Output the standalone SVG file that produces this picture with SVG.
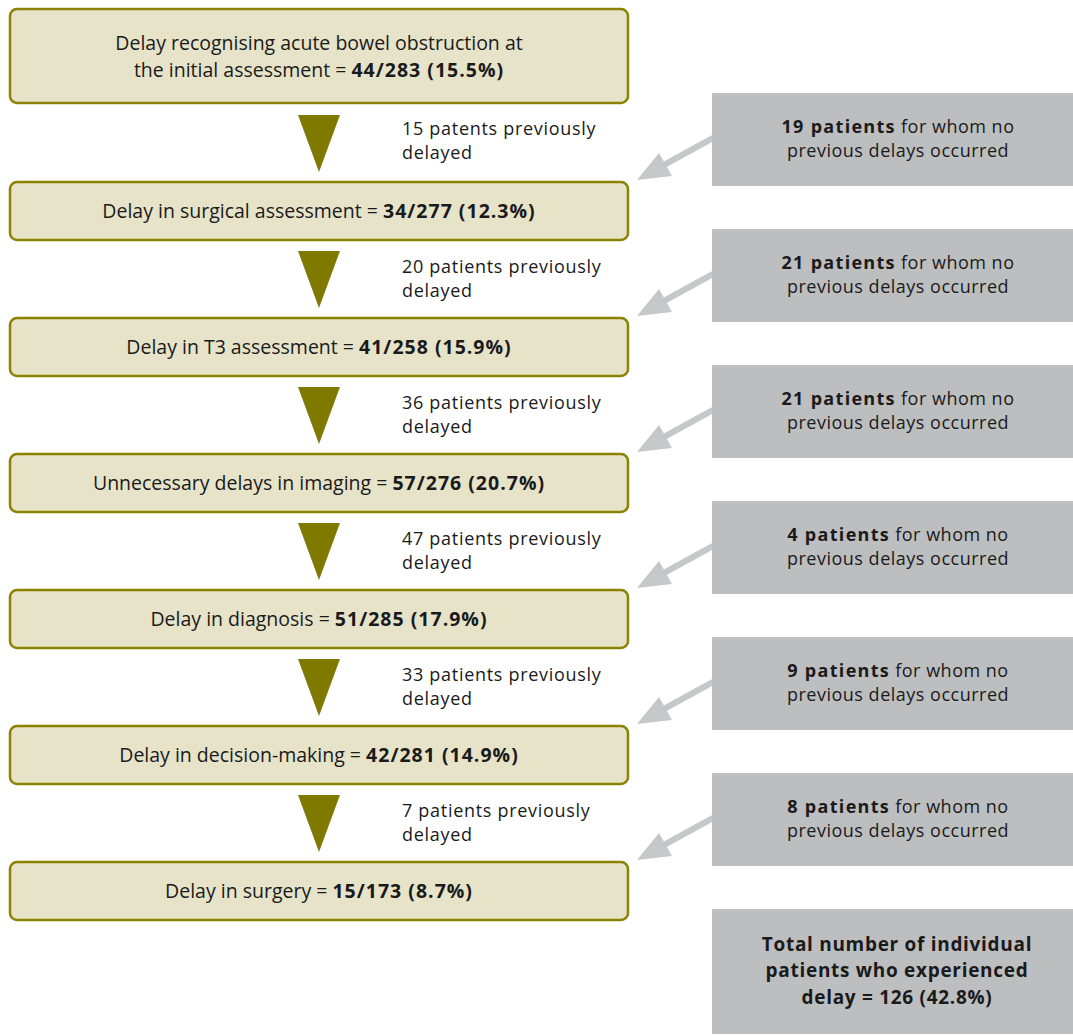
<svg xmlns="http://www.w3.org/2000/svg" width="1073" height="1035" viewBox="0 0 1073 1035">
<style>
text{font-family:"Open Sans","Noto Sans","DejaVu Sans",sans-serif;font-size:19.5px;fill:#1a1a1a}
.b{font-weight:bold;letter-spacing:1px}
.l{font-size:18px;letter-spacing:0.7px}
.s{font-size:18px;letter-spacing:0.5px}
.s .b{letter-spacing:1.3px}
.t{font-size:19px;font-weight:bold;letter-spacing:0.7px}
.main{fill:#e6e3c9;stroke:#8a8200;stroke-width:2.5}
.grey{fill:#bdbec0}
.tri{fill:#807900}
.ga{fill:#c6c7c9}
.gl{stroke:#c6c7c9;stroke-width:6;fill:none}
.m{text-anchor:middle}
</style>
<defs>
<g id="garrow">
<line class="gl" x1="713" y1="138" x2="662" y2="166"/>
<polygon class="ga" points="637,180 659,153 672,176"/>
</g>
<polygon id="tri" class="tri" points="298,115 340,115 319,172"/>
</defs>
<rect width="1073" height="1035" fill="#ffffff"/>
<g id="connectors">
<use href="#tri"/>
<use href="#tri" transform="translate(0,136)"/>
<use href="#tri" transform="translate(0,272)"/>
<use href="#tri" transform="translate(0,408)"/>
<use href="#tri" transform="translate(0,544)"/>
<use href="#tri" transform="translate(0,680)"/>
<use href="#garrow"/>
<use href="#garrow" transform="translate(0,136)"/>
<use href="#garrow" transform="translate(0,272)"/>
<use href="#garrow" transform="translate(0,408)"/>
<use href="#garrow" transform="translate(0,544)"/>
<use href="#garrow" transform="translate(0,680)"/>
</g>
<g id="lbl1"><text class="l" x="402" y="135">15 patents previously</text><text class="l" x="402" y="159">delayed</text></g>
<g id="lbl2"><text class="l" x="402" y="273">20 patients previously</text><text class="l" x="402" y="297">delayed</text></g>
<g id="lbl3"><text class="l" x="402" y="409">36 patients previously</text><text class="l" x="402" y="433">delayed</text></g>
<g id="lbl4"><text class="l" x="402" y="545">47 patients previously</text><text class="l" x="402" y="569">delayed</text></g>
<g id="lbl5"><text class="l" x="402" y="681">33 patients previously</text><text class="l" x="402" y="705">delayed</text></g>
<g id="lbl6"><text class="l" x="402" y="817">7 patients previously</text><text class="l" x="402" y="841">delayed</text></g>

<g id="n1"><rect class="main" x="10" y="9" width="618" height="94" rx="7"/>
<text class="m" x="319" y="50">Delay recognising acute bowel obstruction at</text>
<text class="m" x="319" y="77">the initial assessment = <tspan class="b">44/283 (15.5%)</tspan></text></g>
<g id="n2"><rect class="main" x="10" y="182" width="618" height="58" rx="7"/>
<text class="m" x="319" y="218">Delay in surgical assessment = <tspan class="b">34/277 (12.3%)</tspan></text></g>
<g id="n3"><rect class="main" x="10" y="318" width="618" height="58" rx="7"/>
<text class="m" x="319" y="354">Delay in T3 assessment = <tspan class="b">41/258 (15.9%)</tspan></text></g>
<g id="n4"><rect class="main" x="10" y="454" width="618" height="58" rx="7"/>
<text class="m" x="319" y="490">Unnecessary delays in imaging = <tspan class="b">57/276 (20.7%)</tspan></text></g>
<g id="n5"><rect class="main" x="10" y="590" width="618" height="58" rx="7"/>
<text class="m" x="319" y="626">Delay in diagnosis = <tspan class="b">51/285 (17.9%)</tspan></text></g>
<g id="n6"><rect class="main" x="10" y="726" width="618" height="58" rx="7"/>
<text class="m" x="319" y="762">Delay in decision-making = <tspan class="b">42/281 (14.9%)</tspan></text></g>
<g id="n7"><rect class="main" x="10" y="862" width="618" height="58" rx="7"/>
<text class="m" x="319" y="898">Delay in surgery = <tspan class="b">15/173 (8.7%)</tspan></text></g>

<g id="g1"><rect class="grey" x="712" y="93" width="361" height="93"/>
<text class="m s" x="898" y="133"><tspan class="b">19 patients</tspan> for whom no</text>
<text class="m s" x="898" y="157">previous delays occurred</text></g>
<g id="g2"><rect class="grey" x="712" y="229" width="361" height="93"/>
<text class="m s" x="898" y="269"><tspan class="b">21 patients</tspan> for whom no</text>
<text class="m s" x="898" y="293">previous delays occurred</text></g>
<g id="g3"><rect class="grey" x="712" y="365" width="361" height="93"/>
<text class="m s" x="898" y="405"><tspan class="b">21 patients</tspan> for whom no</text>
<text class="m s" x="898" y="429">previous delays occurred</text></g>
<g id="g4"><rect class="grey" x="712" y="501" width="361" height="93"/>
<text class="m s" x="898" y="541"><tspan class="b">4 patients</tspan> for whom no</text>
<text class="m s" x="898" y="565">previous delays occurred</text></g>
<g id="g5"><rect class="grey" x="712" y="637" width="361" height="93"/>
<text class="m s" x="898" y="677"><tspan class="b">9 patients</tspan> for whom no</text>
<text class="m s" x="898" y="701">previous delays occurred</text></g>
<g id="g6"><rect class="grey" x="712" y="773" width="361" height="93"/>
<text class="m s" x="898" y="813"><tspan class="b">8 patients</tspan> for whom no</text>
<text class="m s" x="898" y="837">previous delays occurred</text></g>
<g id="total"><rect class="grey" x="712" y="909" width="361" height="125"/>
<text class="m t" x="897" y="951">Total number of individual</text>
<text class="m t" x="897" y="977">patients who experienced</text>
<text class="m t" x="897" y="1004">delay = 126 (42.8%)</text></g>
</svg>
